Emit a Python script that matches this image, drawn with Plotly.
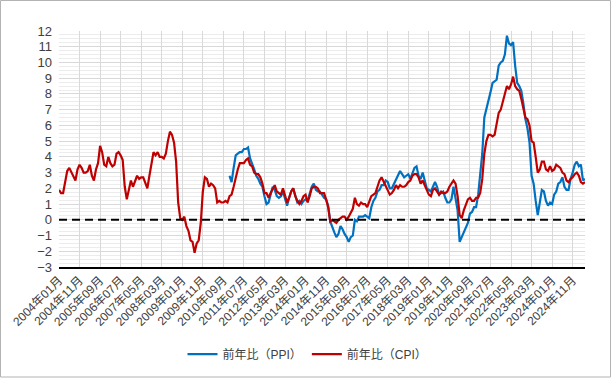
import plotly.graph_objects as go

months = [f"{y}年{m:02d}月" for y in range(2004, 2026) for m in range(1, 13)][:257]

cpi_yoy = [
    1.9, 1.7, 1.7, 2.3, 3.1, 3.3, 3.0, 2.7, 2.5, 3.2, 3.5, 3.3,
    3.0, 3.0, 3.1, 3.5, 2.8, 2.5, 3.2, 3.6, 4.7, 4.3, 3.5, 3.4,
    4.0, 3.6, 3.4, 3.5, 4.2, 4.3, 4.1, 3.8, 2.1, 1.3, 2.0, 2.5,
    2.1, 2.4, 2.8, 2.6, 2.7, 2.7, 2.4, 2.0, 2.8, 3.5, 4.3, 4.1,
    4.3, 4.0, 4.0, 3.9, 4.2, 5.0, 5.6, 5.4, 4.9, 3.7, 1.1, 0.1,
    0.0, 0.2, -0.4, -0.7, -1.3, -1.4, -2.1, -1.5, -1.3, -0.2, 1.8, 2.7,
    2.6, 2.1, 2.3, 2.2, 2.0, 1.1, 1.2, 1.1, 1.1, 1.2, 1.1, 1.5,
    1.6, 2.1, 2.7, 3.2, 3.6, 3.6, 3.6, 3.8, 3.9, 3.5, 3.4, 3.0,
    2.9, 2.9, 2.7, 2.3, 1.7, 1.7, 1.4, 1.7, 2.0, 2.2, 1.8, 1.7,
    1.6, 2.0, 1.5, 1.1, 1.4, 1.8, 2.0, 1.5, 1.2, 1.0, 1.2, 1.5,
    1.6, 1.1, 1.5, 2.0, 2.1, 2.1, 2.0, 1.7, 1.7, 1.7, 1.3, 0.8,
    -0.1, 0.0, -0.1, -0.2, 0.0, 0.1, 0.2, 0.2, 0.0, 0.2, 0.5, 0.7,
    1.4, 1.0, 0.9, 1.1, 1.0, 1.0, 0.8, 1.1, 1.5, 1.6, 1.7, 2.1,
    2.5, 2.7, 2.4, 2.2, 1.9, 1.6, 1.7, 1.9, 2.2, 2.0, 2.2, 2.1,
    2.1, 2.2, 2.4, 2.5, 2.8, 2.9, 2.9, 2.7, 2.3, 2.5, 2.2, 1.9,
    1.6, 1.5, 1.9, 2.0, 1.8, 1.6, 1.8, 1.7, 1.7, 1.8, 2.1, 2.3,
    2.5, 2.3, 1.5, 0.3, 0.1, 0.6, 1.0, 1.3, 1.4, 1.2, 1.2, 1.4,
    1.4, 1.7, 2.6, 4.2, 5.0, 5.4, 5.4, 5.3, 5.4, 6.2, 6.8, 7.0,
    7.5, 7.9, 8.5, 8.3, 8.6, 9.1, 8.5, 8.3, 8.2, 7.7, 7.1, 6.5,
    6.4, 6.0, 5.0, 4.9, 4.0, 3.0, 3.2, 3.7, 3.7, 3.2, 3.1, 3.4,
    3.1, 3.2, 3.5, 3.4, 3.3, 3.0, 2.9, 2.5, 2.4, 2.6, 2.7, 2.9,
    3.0, 2.8, 2.4, 2.3, 2.4,
]

ppi_start = "2010年12月"
ppi_yoy = [
    2.8,
    2.4, 3.3, 4.1, 4.2, 4.3, 4.3, 4.5, 4.5, 4.6, 3.9, 3.6, 3.2,
    2.8, 2.6, 2.3, 2.1, 1.5, 1.0, 1.1, 1.6, 2.1, 1.9, 1.5, 1.4,
    1.5, 1.8, 1.3, 0.9, 1.4, 1.8, 2.0, 1.6, 1.1, 1.2, 1.0, 1.2,
    1.3, 1.2, 1.7, 2.1, 2.3, 1.9, 1.8, 1.8, 1.6, 1.4, 1.3, 0.9,
    -0.1, -0.5, -0.8, -1.1, -0.9, -0.4, -0.6, -0.9, -1.1, -1.4, -1.1, -1.0,
    0.0, -0.1, 0.2, 0.2, 0.2, 0.3, 0.2, 0.1, 0.8, 1.2, 1.4, 1.8,
    1.9, 2.2, 2.2, 2.5, 2.4, 2.0, 2.0, 2.3, 2.6, 2.8, 3.1, 2.9,
    2.7, 2.8, 2.9, 2.6, 3.0, 3.3, 3.4, 2.8, 2.6, 3.0, 2.5, 2.0,
    1.9, 1.8, 2.1, 2.4, 2.1, 1.6, 1.7, 1.8, 1.4, 1.1, 1.1, 1.3,
    2.1, 1.3, 0.6, -1.4, -1.1, -0.8, -0.4, -0.2, 0.4, 0.5, 0.8, 0.8,
    1.6, 2.8, 4.2, 6.5, 7.0, 7.6, 8.1, 8.7, 8.8, 8.9, 9.8, 10.0,
    10.1, 10.5, 11.7, 11.2, 11.1, 11.3, 9.8, 8.7, 8.5, 8.2, 7.4, 6.4,
    5.8, 4.9, 2.8, 2.3, 1.2, 0.3, 1.1, 1.9, 1.8, 1.2, 0.9, 1.1,
    1.0, 1.6, 1.8, 2.3, 2.4, 2.7, 2.1, 1.9, 1.9, 2.6, 3.0, 3.5,
    3.7, 3.4, 3.5, 2.5, 2.6,
]
ppi_months = months[months.index(ppi_start):months.index(ppi_start) + len(ppi_yoy)]

tick_labels = months[::10]
y_ticks = list(range(-3, 13))

FONT = "Liberation Sans, Arial, Noto Sans CJK JP, sans-serif"

fig = go.Figure()
fig.add_trace(go.Scatter(x=ppi_months, y=ppi_yoy, mode="lines", name="前年比（PPI）",
                         line=dict(color="#0070C0", width=2.2)))
fig.add_trace(go.Scatter(x=months, y=cpi_yoy, mode="lines", name="前年比（CPI）",
                         line=dict(color="#C00000", width=2.2)))

fig.update_layout(
    width=615, height=380,
    margin=dict(l=59, r=30, t=31, b=113),
    paper_bgcolor="white", plot_bgcolor="white",
    font=dict(family=FONT, size=12, color="#404040"),
    showlegend=True,
    legend=dict(orientation="h", xref="container", yref="container",
                x=0.5, xanchor="center", y=0.068, yanchor="middle",
                font=dict(size=12, color="#404040"), itemwidth=30,
                tracegroupgap=0),
    xaxis=dict(type="category", categoryorder="array", categoryarray=months,
               range=[0, len(months) - 1], automargin=False,
               tickmode="array", tickvals=tick_labels, ticktext=tick_labels,
               tickangle=-45, tickfont=dict(size=12, color="#404040"),
               showgrid=True, gridcolor="#d9d9d9", gridwidth=1,
               showline=True, linecolor="black", linewidth=1.5,
               ticks="", zeroline=False, ticklabelstandoff=0),
    yaxis=dict(range=[-3, 12], tickmode="array", tickvals=y_ticks, automargin=False,
               tickfont=dict(size=13, color="#404040"),
               showgrid=True, gridcolor="#d9d9d9", gridwidth=1,
               minor=dict(dtick=0.25, showgrid=True, gridcolor="#ececec", gridwidth=1),
               zeroline=False, showline=False, ticks="", ticklabelstandoff=6),
    shapes=[
        dict(type="line", xref="paper", yref="y", x0=0, x1=1, y0=0, y1=0,
             line=dict(color="black", width=2, dash="8px,5px")),
        dict(type="rect", xref="paper", yref="paper",
             x0=(0.5 - 59) / 526, x1=(610.5 - 59) / 526,
             y0=(267 - 377) / 236, y1=(267 - 0.5) / 236,
             line=dict(color="#b3b3b3", width=1), fillcolor="rgba(0,0,0,0)", layer="below"),
    ],
)

fig.write_html("out.html", config={"displayModeBar": False},
               post_script="document.body.style.margin='0';document.body.style.overflow='hidden';")
